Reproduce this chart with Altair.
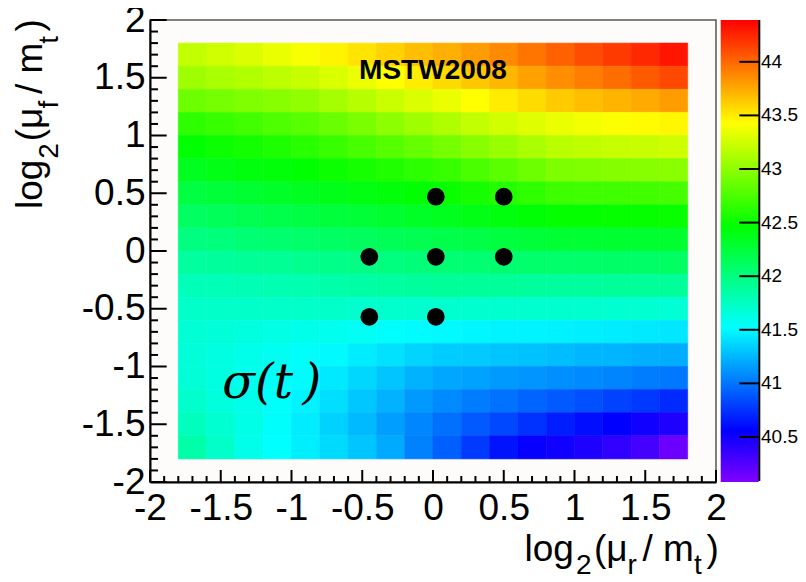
import altair as alt
import pandas as pd

# ---------------- data ----------------
x_centers = [-1.7, -1.5, -1.3, -1.1, -0.9, -0.7, -0.5, -0.3, -0.1,
             0.1, 0.3, 0.5, 0.7, 0.9, 1.1, 1.3, 1.5, 1.7]
y_centers = [1.7, 1.5, 1.3, 1.1, 0.9, 0.7, 0.5, 0.3, 0.1,
             -0.1, -0.3, -0.5, -0.7, -0.9, -1.1, -1.3, -1.5, -1.7]
cell_size = 0.2

z_rows = [
    [43.20, 43.25, 43.30, 43.35, 43.40, 43.47, 43.53, 43.60, 43.67, 43.73, 43.80, 43.87, 43.95, 44.03, 44.10, 44.17, 44.24, 44.31],
    [43.07, 43.11, 43.14, 43.18, 43.22, 43.29, 43.36, 43.43, 43.50, 43.57, 43.64, 43.70, 43.78, 43.85, 43.92, 43.98, 44.05, 44.12],
    [42.88, 42.91, 42.95, 42.98, 43.02, 43.09, 43.16, 43.23, 43.30, 43.36, 43.43, 43.50, 43.56, 43.63, 43.67, 43.71, 43.75, 43.80],
    [42.64, 42.68, 42.72, 42.76, 42.80, 42.87, 42.93, 43.00, 43.07, 43.13, 43.20, 43.26, 43.31, 43.36, 43.39, 43.42, 43.44, 43.46],
    [42.47, 42.51, 42.54, 42.58, 42.62, 42.68, 42.74, 42.79, 42.85, 42.91, 42.98, 43.04, 43.11, 43.17, 43.19, 43.21, 43.22, 43.24],
    [42.36, 42.39, 42.42, 42.44, 42.47, 42.51, 42.55, 42.59, 42.63, 42.68, 42.75, 42.81, 42.88, 42.94, 42.95, 42.97, 42.98, 42.99],
    [42.23, 42.26, 42.29, 42.32, 42.35, 42.38, 42.41, 42.44, 42.47, 42.50, 42.55, 42.60, 42.65, 42.70, 42.71, 42.71, 42.72, 42.73],
    [42.11, 42.14, 42.17, 42.19, 42.22, 42.25, 42.27, 42.30, 42.33, 42.36, 42.39, 42.42, 42.45, 42.48, 42.48, 42.49, 42.49, 42.50],
    [41.99, 42.01, 42.04, 42.06, 42.08, 42.10, 42.12, 42.15, 42.17, 42.19, 42.21, 42.24, 42.26, 42.28, 42.28, 42.29, 42.29, 42.30],
    [41.88, 41.89, 41.91, 41.92, 41.94, 41.96, 41.98, 42.00, 42.02, 42.04, 42.05, 42.06, 42.07, 42.08, 42.08, 42.09, 42.09, 42.10],
    [41.78, 41.79, 41.80, 41.81, 41.82, 41.84, 41.86, 41.87, 41.89, 41.90, 41.90, 41.90, 41.89, 41.89, 41.89, 41.90, 41.90, 41.90],
    [41.72, 41.72, 41.72, 41.72, 41.72, 41.72, 41.71, 41.71, 41.70, 41.70, 41.70, 41.70, 41.70, 41.70, 41.70, 41.69, 41.69, 41.68],
    [41.68, 41.66, 41.64, 41.62, 41.60, 41.58, 41.56, 41.53, 41.51, 41.50, 41.49, 41.48, 41.48, 41.47, 41.46, 41.45, 41.44, 41.43],
    [41.66, 41.63, 41.60, 41.57, 41.54, 41.50, 41.45, 41.41, 41.36, 41.33, 41.32, 41.30, 41.29, 41.27, 41.25, 41.24, 41.22, 41.21],
    [41.67, 41.63, 41.59, 41.55, 41.51, 41.44, 41.37, 41.30, 41.23, 41.19, 41.17, 41.14, 41.12, 41.10, 41.08, 41.06, 41.03, 41.01],
    [41.71, 41.65, 41.60, 41.54, 41.48, 41.40, 41.31, 41.23, 41.14, 41.08, 41.03, 40.99, 40.94, 40.90, 40.86, 40.81, 40.77, 40.72],
    [41.77, 41.69, 41.61, 41.53, 41.45, 41.35, 41.26, 41.16, 41.07, 40.98, 40.90, 40.83, 40.75, 40.67, 40.61, 40.56, 40.50, 40.45],
    [41.84, 41.72, 41.60, 41.52, 41.46, 41.38, 41.30, 41.20, 41.05, 40.92, 40.78, 40.63, 40.54, 40.50, 40.45, 40.38, 40.30, 40.16],
]

point_x = [0.02, 0.50, -0.45, 0.02, 0.50, -0.45, 0.02]
point_y = [0.47, 0.47, -0.05, -0.05, -0.05, -0.57, -0.57]

axis_ticks = [-2, -1.5, -1, -0.5, 0, 0.5, 1, 1.5, 2]
minor_ticks = [round(-2 + 0.1 * i, 1) for i in range(41) if i % 5 != 0]

cbar_ticks = [40.5, 41, 41.5, 42, 42.5, 43, 43.5, 44]
cbar_labels = ["40.5", "41", "41.5", "42", "42.5", "43", "43.5", "44"]

palette_values = [40.08, 40.56, 41.52, 42.47, 43.43, 44.39]
palette_colors = ["#8000ff", "#0000ff", "#00ffff", "#00ff00", "#ffff00", "#ff0000"]

ann_texts = ["MSTW2008", "σ(t\u2009)"]
ann_x = [0.0, -1.14]
ann_y = [1.49, -1.27]

# ---------------- layout constants ----------------
FONT = "Liberation Sans"
W, H = 566, 462
LBL = "datum.value < 0 ? '-' + toString(abs(datum.value)) : toString(datum.value)"

rows = []
for i, yc in enumerate(y_centers):
    for j, xc in enumerate(x_centers):
        rows.append({
            "x0": xc - cell_size / 2, "x1": xc + cell_size / 2,
            "y0": yc - cell_size / 2, "y1": yc + cell_size / 2,
            "z": z_rows[i][j],
        })
df_heat = pd.DataFrame(rows)

xscale = alt.Scale(domain=[-2, 2], nice=False, zero=False)
yscale = alt.Scale(domain=[-2, 2], nice=False, zero=False)
cscale = alt.Scale(domain=palette_values, range=palette_colors,
                   interpolate="rgb", clamp=True)

x_axis = alt.Axis(values=axis_ticks, labelExpr=LBL, labelFont=FONT, labelFontSize=37,
                  labelColor="black", labelBaseline="alphabetic", labelPadding=37,
                  labelOverlap=False, labelFlush=False, ticks=False, tickSize=0,
                  domain=True, domainColor="black", domainWidth=2, grid=False, zindex=1)
y_axis = alt.Axis(values=axis_ticks, labelExpr=LBL, labelFont=FONT, labelFontSize=37,
                  labelColor="black", labelPadding=5, labelOverlap=False,
                  labelFlush=False, ticks=False, tickSize=0, domain=True,
                  domainColor="black", domainWidth=2, grid=False, zindex=1)


def X(field):
    return alt.X(field, scale=xscale, axis=x_axis, title=None)


def Y(field):
    return alt.Y(field, scale=yscale, axis=y_axis, title=None)


heat = alt.Chart(df_heat).mark_rect(strokeWidth=0.6, opacity=1, fillOpacity=1,
                                    strokeOpacity=1).encode(
    x=X("x0:Q"), x2="x1:Q", y=Y("y0:Q"), y2="y1:Q",
    color=alt.Color("z:Q", scale=cscale, legend=None),
    stroke=alt.Stroke("z:Q", scale=cscale, legend=None),
)

df_major = pd.DataFrame({"t": axis_ticks})
df_minor = pd.DataFrame({"t": minor_ticks})

xt_major = alt.Chart(df_major).mark_rule(color="black", strokeWidth=2).encode(
    x=X("t:Q"), y=alt.value(H), y2=alt.value(H - 12))
xt_minor = alt.Chart(df_minor).mark_rule(color="black", strokeWidth=2).encode(
    x=X("t:Q"), y=alt.value(H), y2=alt.value(H - 6))
yt_major = alt.Chart(df_major).mark_rule(color="black", strokeWidth=2).encode(
    y=Y("t:Q"), x=alt.value(0), x2=alt.value(16.7))
yt_minor = alt.Chart(df_minor).mark_rule(color="black", strokeWidth=2).encode(
    y=Y("t:Q"), x=alt.value(0), x2=alt.value(8))

df_pts = pd.DataFrame({"px": point_x, "py": point_y})
dots = alt.Chart(df_pts).mark_circle(size=314, color="black", opacity=1).encode(
    x=X("px:Q"), y=Y("py:Q"))

df_ann = pd.DataFrame({"s": ann_texts, "ax": ann_x, "ay": ann_y})
mstw = alt.Chart(df_ann.iloc[[0]]).mark_text(
    font=FONT, fontSize=28, fontWeight="bold", align="center",
    baseline="alphabetic", color="black").encode(x=X("ax:Q"), y=Y("ay:Q"), text="s:N")
sigma = alt.Chart(df_ann.iloc[[1]]).mark_text(
    font="DejaVu Serif", fontStyle="italic", fontSize=48, align="center",
    baseline="alphabetic", color="black").encode(x=X("ax:Q"), y=Y("ay:Q"), text="s:N")


def piece(text, px, py, size, angle=0):
    return alt.Chart(pd.DataFrame({"s": [text]})).mark_text(
        font=FONT, fontSize=size, align="left", baseline="alphabetic",
        angle=angle, color="black").encode(text="s:N", x=alt.value(px), y=alt.value(py))


MAIN, SUB = 37, 28
offsets = [0, 51.5, 69.5, 103, 118, 169.5, 182]
is_sub = [False, True, False, True, False, True, False]
xt_parts = ["log", "2", "(μ", "r", "/ m", "t", ")"]
yt_parts = ["log", "2", "(μ", "f", "/ m", "t", ")"]

title_layers = []
for txt, off, sb in zip(xt_parts, offsets, is_sub):
    title_layers.append(piece(txt, 374.5 + off, 553.5 if sb else 540.5, SUB if sb else MAIN))
for txt, off, sb in zip(yt_parts, offsets, is_sub):
    title_layers.append(piece(txt, -91.8 if sb else -108.3, 189.0 - 0.975 * off,
                              SUB if sb else MAIN, angle=270))

main = alt.layer(heat, xt_major, xt_minor, yt_major, yt_minor, dots, mstw, sigma,
                 *title_layers)

# ---------------- colour bar ----------------
lo, hi = palette_values[0], palette_values[-1]
cb_scale = alt.Scale(domain=[lo, hi], nice=False, zero=False)
grad = alt.Gradient(
    gradient="linear",
    stops=[alt.GradientStop(offset=(v - lo) / (hi - lo), color=c)
           for v, c in zip(palette_values, palette_colors)],
    x1=0, x2=0, y1=1, y2=0,
)
df_cb = pd.DataFrame({"lo": [lo], "hi": [hi]})
cb_rect = alt.Chart(df_cb).mark_rect(fill=grad).encode(
    y=alt.Y("lo:Q", scale=cb_scale, axis=None, title=None), y2="hi:Q",
    x=alt.value(570.7), x2=alt.value(608.7))
cb_line = alt.Chart(df_cb).mark_rule(color="black", strokeWidth=2).encode(
    x=alt.value(609.3), y=alt.value(0), y2=alt.value(461))
df_cbt = pd.DataFrame({"v": cbar_ticks, "lab": cbar_labels})
cb_ticks = alt.Chart(df_cbt).mark_rule(color="black", strokeWidth=2).encode(
    y=alt.Y("v:Q", scale=cb_scale, axis=None, title=None),
    x=alt.value(589.3), x2=alt.value(609.3))
cb_labels = alt.Chart(df_cbt).mark_text(
    font=FONT, fontSize=19, align="left", baseline="middle", color="black").encode(
    y=alt.Y("v:Q", scale=cb_scale, axis=None, title=None),
    x=alt.value(611), text="lab:N")

colorbar = alt.layer(cb_rect, cb_ticks, cb_line, cb_labels)

chart = alt.layer(main, colorbar).resolve_scale(y="independent").properties(
    width=W, height=H,
    autosize=alt.AutoSizeParams(type="none"),
    padding={"left": 142, "top": 12, "right": 82, "bottom": 100},
    background="white",
).configure_view(fill="#fdfcfa", stroke="#555555", strokeWidth=1.5)

chart.save("out.html", embed_options={"renderer": "svg", "actions": False})
